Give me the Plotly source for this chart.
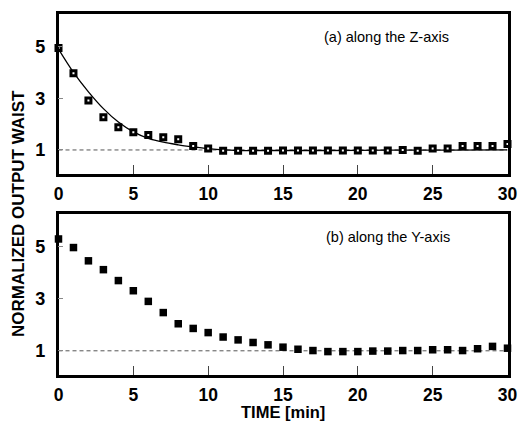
import plotly.graph_objects as go

# ---- data ----
time_min = list(range(0, 31))
waist_z = [4.94, 3.97, 2.91, 2.27, 1.88, 1.69, 1.58, 1.49, 1.41, 1.15, 1.06,
           0.97, 0.97, 0.97, 0.97, 0.98, 0.98, 0.98, 0.98, 0.98, 0.98, 0.98,
           0.98, 1.0, 0.97, 1.06, 1.06, 1.15, 1.15, 1.15, 1.23]
fit_t = [0, 1, 2, 3, 4, 5, 6, 7, 8, 9, 10, 11, 12, 14, 18, 22, 26, 30]
fit_z = [4.9, 4.0, 3.25, 2.6, 2.08, 1.70, 1.45, 1.30, 1.20, 1.12, 1.05,
         1.0, 0.98, 0.98, 0.98, 0.99, 0.99, 1.0]
waist_y = [5.3, 4.97, 4.46, 4.12, 3.70, 3.31, 2.90, 2.47, 2.04, 1.86, 1.70,
           1.53, 1.42, 1.32, 1.23, 1.14, 1.06, 1.01, 0.97, 0.97, 0.97, 0.99,
           0.99, 1.01, 1.01, 1.04, 1.04, 1.01, 1.08, 1.17, 1.10]
ref_t = [0, 30]
ref_level = [1, 1]
y_ticks = [1, 3, 5]
x_ticks = [0, 5, 10, 15, 20, 25, 30]

FONT = "Liberation Sans, Arial, sans-serif"

fig = go.Figure()

# reference dashed lines
for xa, ya in (("x", "y"), ("x2", "y2")):
    fig.add_trace(go.Scatter(x=ref_t, y=ref_level, mode="lines", xaxis=xa, yaxis=ya,
                             line=dict(color="#555555", width=1, dash="4px,3px"),
                             showlegend=False, hoverinfo="skip"))

# panel (a)
fig.add_trace(go.Scatter(x=fit_t, y=fit_z, mode="lines", xaxis="x", yaxis="y",
                         line=dict(color="black", width=1.3, shape="spline", smoothing=1.0),
                         showlegend=False))
fig.add_trace(go.Scatter(x=time_min, y=waist_z, mode="markers", xaxis="x", yaxis="y",
                         marker=dict(symbol="square", size=5, color="white",
                                     line=dict(color="black", width=3)),
                         cliponaxis=False, showlegend=False))
# panel (b)
fig.add_trace(go.Scatter(x=time_min, y=waist_y, mode="markers", xaxis="x2", yaxis="y2",
                         marker=dict(symbol="square", size=7.5, color="black",
                                     line=dict(width=0)),
                         cliponaxis=False, showlegend=False))

W, H = 520, 422
x_dom = [58.5 / W, 507.5 / W]
top_dom = [1 - 174 / H, 1 - 14 / H]
bot_dom = [1 - 375 / H, 1 - 214 / H]

xcommon = dict(range=[0, 30], tickvals=x_ticks, ticktext=[str(v) for v in x_ticks],
               ticks="inside", ticklen=9, tickwidth=1, tickcolor="#444444",
               showline=True, linewidth=2.5, linecolor="black", mirror=True,
               showgrid=False, zeroline=False, automargin=False,
               tickfont=dict(family=FONT, size=17.5, color="black", weight="bold"),
               ticklabelstandoff=2)
ycommon = dict(range=[0.07, 6.26], tickvals=y_ticks, ticktext=[str(v) for v in y_ticks],
               ticks="inside", ticklen=5, tickwidth=1, tickcolor="#888888",
               showline=True, linewidth=2.5, linecolor="black", mirror=True,
               showgrid=False, zeroline=False, automargin=False,
               tickfont=dict(family=FONT, size=18, color="black", weight="bold"),
               ticklabelstandoff=7)

fig.update_layout(
    width=W, height=H,
    margin=dict(l=0, r=0, t=0, b=0, autoexpand=False),
    paper_bgcolor="white", plot_bgcolor="white",
    xaxis=dict(domain=x_dom, anchor="y", **xcommon),
    yaxis=dict(domain=top_dom, anchor="x", **ycommon),
    xaxis2=dict(domain=x_dom, anchor="y2", **xcommon),
    yaxis2=dict(domain=bot_dom, anchor="x2", **ycommon),
    annotations=[
        dict(text="(a) along the Z-axis", xref="paper", yref="paper",
             x=386.5 / W, y=1 - 36.7 / H, xanchor="center", yanchor="middle",
             showarrow=False, font=dict(family=FONT, size=14.5, color="black")),
        dict(text="(b) along the Y-axis", xref="paper", yref="paper",
             x=388 / W, y=1 - 237 / H, xanchor="center", yanchor="middle",
             showarrow=False, font=dict(family=FONT, size=14.5, color="black")),
        dict(text="NORMALIZED OUTPUT WAIST", xref="paper", yref="paper",
             x=18 / W, y=1 - 214 / H, xanchor="center", yanchor="middle",
             textangle=-90, showarrow=False,
             font=dict(family=FONT, size=17, color="black", weight="bold")),
        dict(text="TIME [min]", xref="paper", yref="paper",
             x=283 / W, y=0, xanchor="center", yanchor="bottom",
             showarrow=False, borderpad=0,
             font=dict(family=FONT, size=16.5, color="black", weight="bold")),
    ],
)

fig.write_html("out.html", config={"displayModeBar": False},
               post_script="document.body.style.margin='0';document.body.style.overflow='hidden';")
